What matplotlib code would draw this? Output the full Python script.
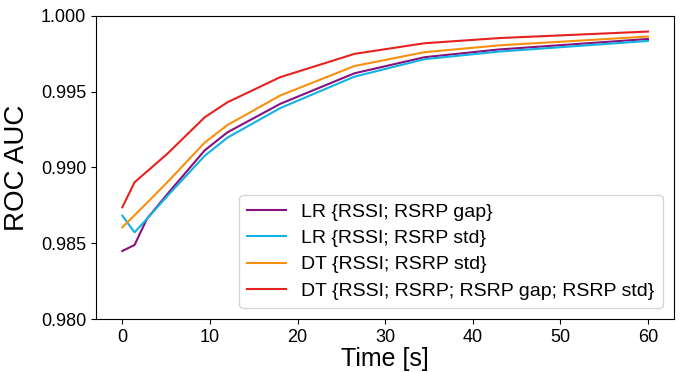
import matplotlib
matplotlib.use('Agg')
import matplotlib.pyplot as plt

plt.rcParams['font.family'] = ['Liberation Sans', 'DejaVu Sans']

# time points [s]
time = [0, 1.4, 2.8, 5.2, 9.4, 12, 18, 26.5, 34.5, 43, 60]

lr_gap = [0.98449, 0.98489, 0.98660, 0.98828, 0.99112, 0.99231, 0.99418, 0.99620, 0.99726, 0.99777, 0.99846]
lr_std = [0.98682, 0.98572, 0.98660, 0.98815, 0.99076, 0.99196, 0.99390, 0.99598, 0.99713, 0.99763, 0.99833]
dt_std = [0.98605, 0.98685, 0.98765, 0.98906, 0.99163, 0.99279, 0.99473, 0.99668, 0.99759, 0.99804, 0.99862]
dt_all = [0.98737, 0.98902, 0.98972, 0.99093, 0.99330, 0.99429, 0.99594, 0.99748, 0.99818, 0.99852, 0.99895]

labels = ['LR {RSSI; RSRP gap}', 'LR {RSSI; RSRP std}',
          'DT {RSSI; RSRP std}', 'DT {RSSI; RSRP; RSRP gap; RSRP std}']
colors = ['#86117f', '#12b2e2', '#f7900f', '#e5221f']

fig, ax = plt.subplots(figsize=(6.81, 3.72), dpi=100)
fig.subplots_adjust(left=0.141, right=0.99, top=0.958, bottom=0.142)

for vals, lab, col in zip([lr_gap, lr_std, dt_std, dt_all], labels, colors):
    ax.plot(time, vals, color=col, linewidth=1.5, label=lab)

ax.set_ylim(0.980, 1.000)
ax.set_yticks([0.980, 0.985, 0.990, 0.995, 1.000])
ax.set_xticks([0, 10, 20, 30, 40, 50, 60])
ax.tick_params(labelsize=13)
ax.set_xlabel('Time [s]', fontsize=18, labelpad=1)
ax.set_ylabel('ROC AUC', fontsize=20, labelpad=8)
ax.legend(loc='lower right', fontsize=14, handlelength=2.0,
          borderaxespad=0.6, labelspacing=0.45)

plt.savefig('out.png', dpi=100)
